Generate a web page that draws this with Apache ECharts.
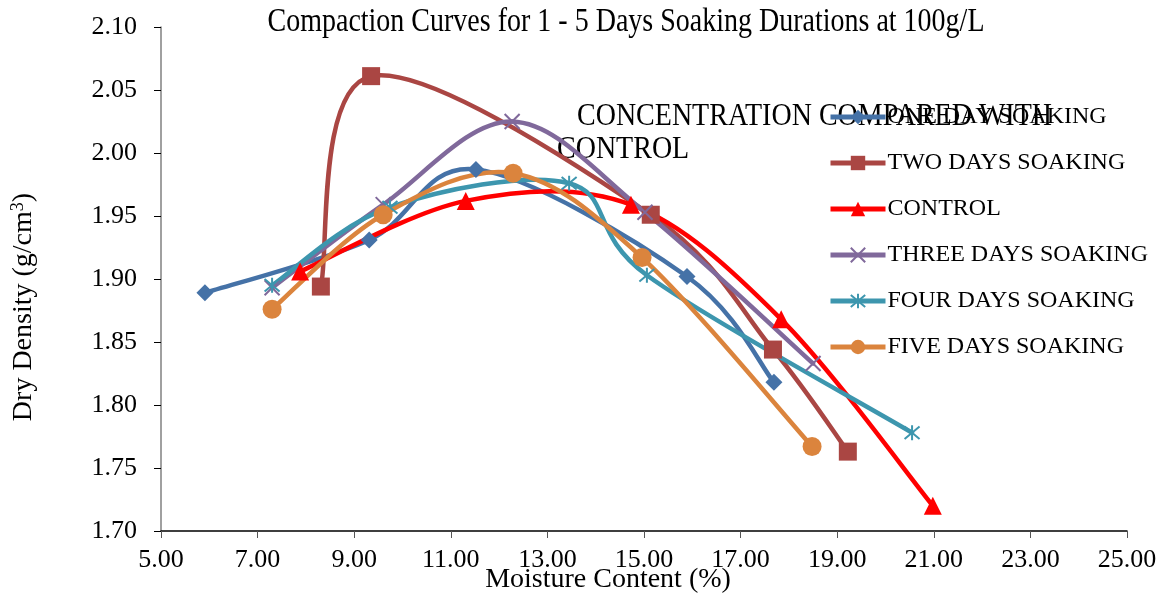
<!DOCTYPE html>
<html><head><meta charset="utf-8">
<script src="https://cdn.jsdelivr.net/npm/echarts@6/dist/echarts.min.js"></script>
<style>html,body{margin:0;padding:0;background:#fff}#c{width:1162px;height:595px}</style>
</head><body><div id="c"></div>
<script>
const seriesNames = ['ONE DAY SOAKING','TWO DAYS SOAKING','CONTROL','THREE DAYS SOAKING','FOUR DAYS SOAKING','FIVE DAYS SOAKING'];
const oneDay   = [[5.91,1.889],[9.31,1.931],[11.52,1.987],[15.89,1.902],[17.69,1.818]];
const twoDays  = [[8.31,1.894],[9.35,2.061],[15.14,1.951],[17.67,1.844],[19.22,1.763]];
const control  = [[7.88,1.906],[11.31,1.962],[14.73,1.959],[17.84,1.868],[20.98,1.720]];
const threeDays= [[7.30,1.893],[9.60,1.959],[12.27,2.025],[15.02,1.953],[18.50,1.833]];
const fourDays = [[7.30,1.895],[9.74,1.957],[13.45,1.976],[15.06,1.903],[20.55,1.778]];
const fiveDays = [[7.30,1.876],[9.60,1.951],[12.29,1.984],[14.96,1.917],[18.48,1.767]];
const xTicks = [5,7,9,11,13,15,17,19,21,23,25];
const yTicks = [1.70,1.75,1.80,1.85,1.90,1.95,2.00,2.05,2.10];

const colors = ['#4572A7','#AA4643','#FF0000','#80699B','#3D96AE','#DB843D'];
const symbols = ['diamond','rect','triangle','path://M0,0L10,10M10,0L0,10','path://M0,0L10,10M10,0L0,10M5,-1L5,11','circle'];
const symSizes = [17,18,18,15,15,19];
const datas = [oneDay,twoDays,control,threeDays,fourDays,fiveDays];
const serif = '"Liberation Serif","Times New Roman",serif';

// Excel-style smoothed curve (Catmull-Rom bezier) drawn through the axis scales
function curveSeries(d, i){
  return {
    type:'custom', name:'curve'+i, data:d, silent:true, clip:false,
    encode:{x:0,y:1},
    renderItem:function(params, api){
      const k = params.dataIndex;
      if (k >= d.length-1) return null;
      const P = j => api.coord(d[Math.max(0,Math.min(d.length-1,j))]);
      const p0=P(k-1), p1=P(k), p2=P(k+1), p3=P(k+2);
      const t=1/6;
      return {type:'bezierCurve',
        shape:{x1:p1[0],y1:p1[1],x2:p2[0],y2:p2[1],
          cpx1:p1[0]+(p2[0]-p0[0])*t, cpy1:p1[1]+(p2[1]-p0[1])*t,
          cpx2:p2[0]-(p3[0]-p1[0])*t, cpy2:p2[1]-(p3[1]-p1[1])*t},
        style:{stroke:colors[i], lineWidth:4.5, fill:null, lineCap:'round'}};
    }
  };
}

const series = [];
datas.forEach((d,i)=>{
  series.push(curveSeries(d,i));
  series.push({
    name: seriesNames[i], type:'line', data:d,
    symbol: symbols[i], symbolSize: symSizes[i], showAllSymbol:true,
    lineStyle:{color:colors[i], width:4.5, opacity:0},
    itemStyle: (i===3||i===4) ? {color:'none', borderColor:colors[i], borderWidth:2} : {color:colors[i]},
    emphasis:{disabled:true}
  });
});

const chart = echarts.init(document.getElementById('c'));
chart.setOption({
  animation:false,
  color: colors,
  graphic:[
    {type:'text', x:626, y:22, scaleY:1.18, style:{text:'Compaction Curves for 1 - 5 Days Soaking Durations at 100g/L',
      font:'28px '+serif, fill:'#000', textAlign:'center', textVerticalAlign:'middle'}},
    {type:'text', x:577, y:117, scaleY:1.15, style:{text:'CONCENTRATION COMPARED WITH',
      font:'28px '+serif, fill:'#000', textAlign:'left', textVerticalAlign:'middle'}},
    {type:'text', x:557, y:150, scaleY:1.15, style:{text:'CONTROL',
      font:'28px '+serif, fill:'#000', textAlign:'left', textVerticalAlign:'middle'}}
  ],
  legend:{
    data: seriesNames, orient:'vertical', left:823, top:100, itemGap:22, itemWidth:55, itemHeight:18,
    lineStyle:{opacity:1, width:5},
    textStyle:{fontFamily:serif,fontSize:24,color:'#000',padding:[0,0,0,-3]}
  },
  grid:{left:161, right:35, top:27, bottom:64, outerBoundsMode:'none', containLabel:false},
  xAxis:{
    type:'value', min:xTicks[0], max:xTicks[xTicks.length-1], interval:2,
    axisLine:{lineStyle:{color:'#000',width:1.5}},
    axisTick:{show:true,length:7,lineStyle:{color:'#555'}},
    splitLine:{show:false},
    axisLabel:{formatter:v=>v.toFixed(2), fontFamily:serif, fontSize:26, color:'#000', margin:16},
    name:'Moisture Content (%)', nameLocation:'middle', nameGap:35, nameMoveOverlap:false,
    nameTextStyle:{fontFamily:serif,fontSize:28,color:'#000',padding:[0,72,0,0]}
  },
  yAxis:{
    type:'value', min:yTicks[0], max:yTicks[yTicks.length-1], interval:0.05,
    axisLine:{show:true,lineStyle:{color:'#808080',width:1.5}},
    axisTick:{show:true,length:7,lineStyle:{color:'#000'}},
    splitLine:{show:false},
    axisLabel:{formatter:v=>v.toFixed(2), fontFamily:serif, fontSize:26, color:'#000', margin:24},
    name:'Dry Density (g/cm{sup|3})', nameLocation:'middle', nameGap:122, nameRotate:90, nameMoveOverlap:false,
    nameTextStyle:{fontFamily:serif,fontSize:28,color:'#000',padding:[0,56,0,0],
      rich:{sup:{fontFamily:serif,fontSize:18,verticalAlign:'top',padding:[0,0,12,0],color:'#000'}}}
  },
  series: series
});
</script></body></html>
